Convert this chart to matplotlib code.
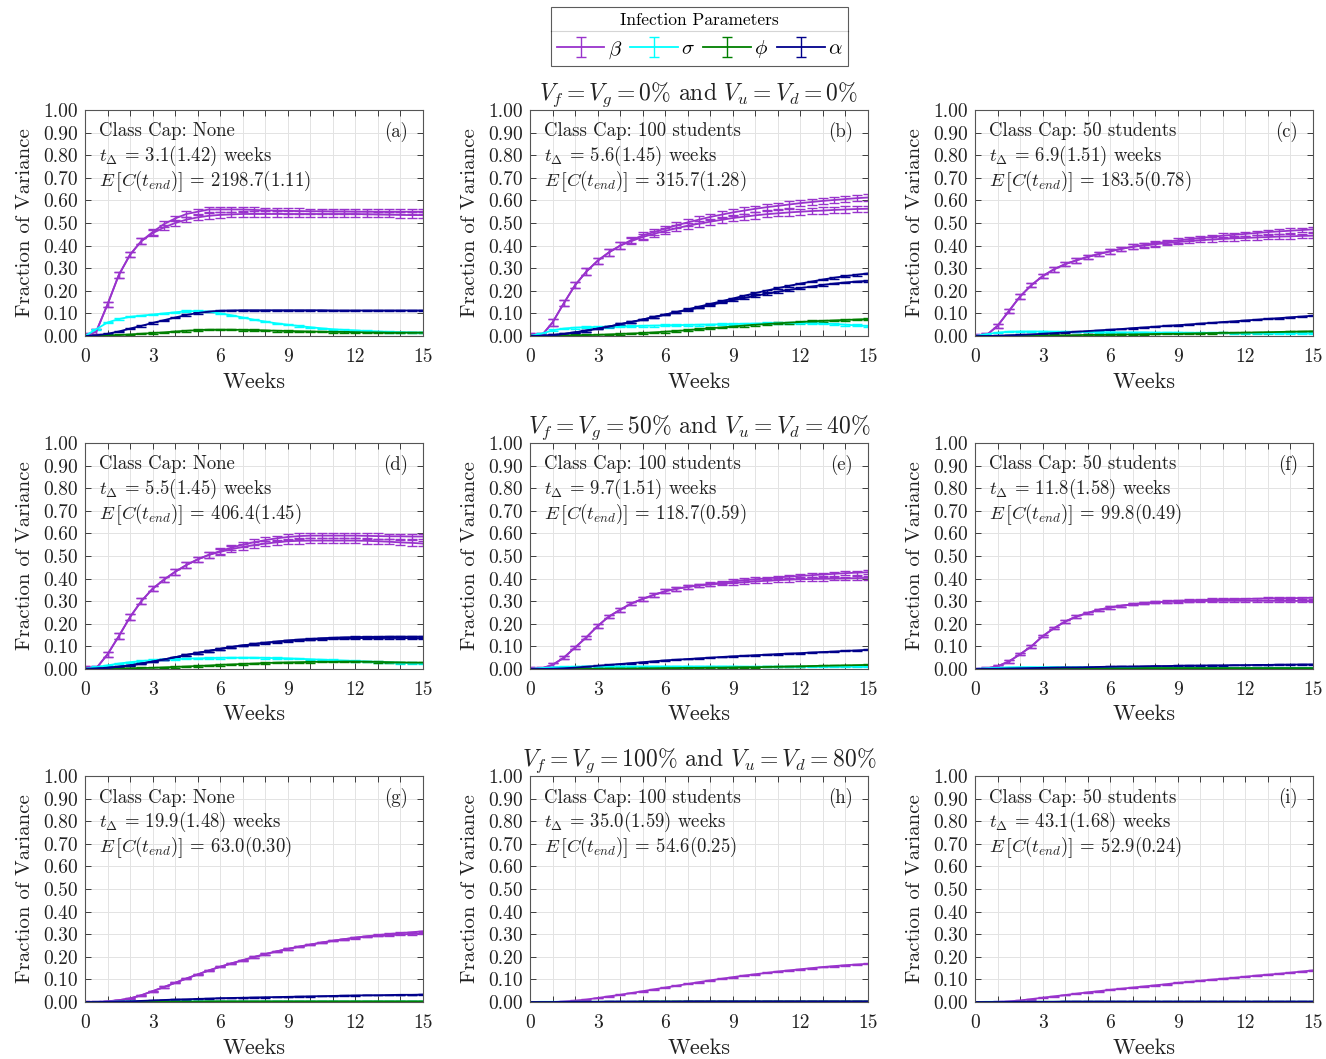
import matplotlib.pyplot as plt
from matplotlib.lines import Line2D
import numpy as np

plt.rcParams['font.family'] = 'serif'
plt.rcParams['font.serif'] = ['cmr10']
plt.rcParams['mathtext.fontset'] = 'cm'
plt.rcParams['axes.formatter.use_mathtext'] = True

weeks = np.arange(0, 15.01, 0.5)

# ---- panel (a)
beta_a_hi = [0, 0.02, 0.14, 0.27, 0.36, 0.42, 0.46, 0.495, 0.52, 0.54, 0.55, 0.56, 0.56, 0.56, 0.56, 0.558,
             0.556, 0.555, 0.554, 0.553, 0.552, 0.552, 0.551, 0.551, 0.55, 0.55, 0.55, 0.55, 0.55, 0.55, 0.55]
beta_a_lo = [0, 0.02, 0.14, 0.27, 0.36, 0.42, 0.455, 0.48, 0.5, 0.515, 0.525, 0.532, 0.536, 0.538, 0.54, 0.54,
             0.54, 0.54, 0.54, 0.54, 0.54, 0.54, 0.54, 0.54, 0.54, 0.539, 0.538, 0.537, 0.536, 0.535, 0.535]
sigma_a = [0, 0.03, 0.06, 0.075, 0.085, 0.09, 0.095, 0.1, 0.105, 0.11, 0.11, 0.108, 0.1, 0.092, 0.082, 0.072,
           0.064, 0.056, 0.05, 0.044, 0.039, 0.034, 0.03, 0.027, 0.025, 0.022, 0.02, 0.018, 0.017, 0.016, 0.015]
phi_a = [0, 0, 0.002, 0.004, 0.007, 0.01, 0.013, 0.016, 0.02, 0.023, 0.026, 0.028, 0.028, 0.028, 0.027, 0.026,
         0.025, 0.023, 0.022, 0.021, 0.02, 0.019, 0.018, 0.018, 0.017, 0.016, 0.016, 0.015, 0.015, 0.015, 0.015]
alpha_a = [0, 0.003, 0.01, 0.02, 0.033, 0.045, 0.058, 0.07, 0.082, 0.093, 0.102, 0.108, 0.112, 0.113, 0.114, 0.114,
           0.114, 0.114, 0.114, 0.114, 0.114, 0.114, 0.113, 0.113, 0.113, 0.113, 0.113, 0.113, 0.113, 0.113, 0.113]

# ---- panel (b)
beta_b_hi = [0, 0.0, 0.06, 0.145, 0.225, 0.285, 0.333, 0.37, 0.4, 0.425, 0.445, 0.46, 0.475, 0.49, 0.503, 0.515,
             0.527, 0.537, 0.547, 0.555, 0.563, 0.57, 0.576, 0.582, 0.588, 0.593, 0.598, 0.602, 0.606, 0.61, 0.613]
beta_b_lo = [0, 0.0, 0.06, 0.145, 0.225, 0.285, 0.333, 0.37, 0.4, 0.42, 0.438, 0.452, 0.465, 0.477, 0.488, 0.497,
             0.506, 0.514, 0.522, 0.528, 0.534, 0.539, 0.543, 0.547, 0.55, 0.553, 0.555, 0.558, 0.56, 0.562, 0.563]
sigma_b = [0, 0.01, 0.025, 0.033, 0.037, 0.039, 0.04, 0.041, 0.042, 0.043, 0.045, 0.046, 0.047, 0.048, 0.049, 0.05,
           0.051, 0.052, 0.053, 0.054, 0.055, 0.056, 0.057, 0.057, 0.057, 0.056, 0.055, 0.053, 0.05, 0.047, 0.044]
phi_b = [0, 0, 0.001, 0.002, 0.003, 0.004, 0.005, 0.007, 0.009, 0.011, 0.013, 0.016, 0.019, 0.022, 0.026, 0.03,
         0.034, 0.038, 0.042, 0.046, 0.05, 0.053, 0.056, 0.059, 0.062, 0.065, 0.067, 0.069, 0.071, 0.073, 0.075]
alpha_b_hi = [0, 0.001, 0.004, 0.009, 0.016, 0.024, 0.033, 0.042, 0.052, 0.062, 0.073, 0.084, 0.095, 0.106, 0.118,
              0.13, 0.142, 0.154, 0.166, 0.178, 0.19, 0.201, 0.212, 0.222, 0.232, 0.241, 0.25, 0.258, 0.265, 0.271, 0.277]
alpha_b_lo = [0, 0.001, 0.004, 0.009, 0.016, 0.024, 0.033, 0.042, 0.052, 0.062, 0.073, 0.084, 0.095, 0.105, 0.115,
              0.126, 0.137, 0.148, 0.158, 0.168, 0.178, 0.187, 0.196, 0.204, 0.212, 0.219, 0.226, 0.232, 0.237, 0.241, 0.244]

# ---- panel (c)
beta_c_hi = [0, 0.003, 0.045, 0.11, 0.175, 0.225, 0.265, 0.295, 0.318, 0.335, 0.35, 0.363, 0.375, 0.386, 0.395, 0.403,
             0.41, 0.417, 0.423, 0.429, 0.434, 0.439, 0.444, 0.448, 0.452, 0.456, 0.46, 0.463, 0.466, 0.469, 0.472]
beta_c_lo = [0, 0.003, 0.045, 0.11, 0.175, 0.225, 0.265, 0.295, 0.318, 0.335, 0.35, 0.363, 0.375, 0.386, 0.395, 0.4,
             0.406, 0.411, 0.416, 0.42, 0.424, 0.427, 0.43, 0.432, 0.434, 0.436, 0.438, 0.44, 0.441, 0.443, 0.444]
sigma_c = [0, 0.008, 0.015, 0.019, 0.02, 0.02, 0.02, 0.019, 0.019, 0.018, 0.018, 0.017, 0.017, 0.016, 0.016, 0.016,
           0.015, 0.015, 0.015, 0.014, 0.014, 0.014, 0.014, 0.013, 0.013, 0.013, 0.013, 0.013, 0.012, 0.012, 0.012]
phi_c = [0, 0, 0, 0.001, 0.001, 0.002, 0.002, 0.003, 0.003, 0.004, 0.005, 0.005, 0.006, 0.007, 0.007, 0.008,
         0.009, 0.01, 0.01, 0.011, 0.012, 0.013, 0.014, 0.014, 0.015, 0.016, 0.017, 0.018, 0.019, 0.02, 0.021]
alpha_c = [0, 0, 0.001, 0.003, 0.005, 0.007, 0.01, 0.013, 0.016, 0.019, 0.022, 0.025, 0.028, 0.031, 0.035, 0.038,
           0.041, 0.045, 0.048, 0.051, 0.055, 0.058, 0.062, 0.065, 0.069, 0.072, 0.076, 0.079, 0.083, 0.086, 0.09]

# ---- panel (d)
beta_d_hi = [0, 0.003, 0.065, 0.145, 0.23, 0.3, 0.355, 0.395, 0.43, 0.46, 0.485, 0.505, 0.522, 0.537, 0.55, 0.561,
             0.57, 0.578, 0.584, 0.588, 0.59, 0.59, 0.59, 0.59, 0.59, 0.589, 0.588, 0.587, 0.587, 0.586, 0.586]
beta_d_lo = [0, 0.003, 0.065, 0.145, 0.23, 0.3, 0.355, 0.395, 0.43, 0.46, 0.485, 0.505, 0.518, 0.53, 0.54, 0.548,
             0.555, 0.56, 0.565, 0.567, 0.568, 0.568, 0.568, 0.568, 0.568, 0.567, 0.565, 0.563, 0.56, 0.558, 0.555]
sigma_d = [0, 0.008, 0.016, 0.024, 0.03, 0.035, 0.039, 0.042, 0.044, 0.046, 0.047, 0.048, 0.049, 0.05, 0.05, 0.05,
           0.049, 0.048, 0.047, 0.045, 0.043, 0.041, 0.039, 0.037, 0.035, 0.033, 0.031, 0.029, 0.027, 0.026, 0.025]
phi_d = [0, 0, 0.001, 0.002, 0.003, 0.004, 0.005, 0.007, 0.009, 0.011, 0.013, 0.015, 0.018, 0.02, 0.022, 0.024,
         0.026, 0.028, 0.029, 0.03, 0.031, 0.032, 0.032, 0.033, 0.033, 0.032, 0.031, 0.03, 0.029, 0.028, 0.028]
alpha_d_hi = [0, 0.002, 0.005, 0.01, 0.016, 0.024, 0.033, 0.042, 0.052, 0.062, 0.071, 0.08, 0.089, 0.097, 0.104,
              0.11, 0.116, 0.121, 0.126, 0.13, 0.133, 0.136, 0.138, 0.14, 0.141, 0.142, 0.142, 0.143, 0.143, 0.143, 0.143]
alpha_d_lo = [0, 0.002, 0.005, 0.01, 0.016, 0.024, 0.033, 0.042, 0.052, 0.062, 0.071, 0.08, 0.089, 0.097, 0.104,
              0.11, 0.115, 0.12, 0.124, 0.127, 0.13, 0.132, 0.134, 0.135, 0.136, 0.137, 0.137, 0.137, 0.137, 0.136, 0.136]

# ---- panel (e)
beta_e_hi = [0, 0.002, 0.018, 0.05, 0.095, 0.14, 0.19, 0.232, 0.262, 0.29, 0.31, 0.328, 0.344, 0.355, 0.363, 0.37,
             0.376, 0.382, 0.388, 0.393, 0.397, 0.401, 0.405, 0.409, 0.412, 0.415, 0.418, 0.421, 0.424, 0.426, 0.428]
beta_e_lo = [0, 0.002, 0.018, 0.05, 0.095, 0.14, 0.19, 0.232, 0.262, 0.29, 0.31, 0.328, 0.344, 0.355, 0.363, 0.37,
             0.374, 0.378, 0.381, 0.384, 0.388, 0.39, 0.393, 0.395, 0.397, 0.398, 0.399, 0.4, 0.401, 0.402, 0.403]
sigma_e = [0, 0.004, 0.007, 0.009, 0.01, 0.011, 0.011, 0.011, 0.011, 0.011, 0.011, 0.011, 0.011, 0.011, 0.011, 0.011,
           0.011, 0.011, 0.011, 0.01, 0.01, 0.01, 0.01, 0.01, 0.01, 0.01, 0.01, 0.01, 0.01, 0.01, 0.009]
phi_e = [0, 0, 0, 0, 0.001, 0.001, 0.001, 0.002, 0.002, 0.002, 0.003, 0.003, 0.004, 0.004, 0.005, 0.005,
         0.006, 0.006, 0.007, 0.008, 0.008, 0.009, 0.01, 0.011, 0.012, 0.013, 0.014, 0.015, 0.016, 0.017, 0.018]
alpha_e = [0, 0, 0.001, 0.003, 0.006, 0.01, 0.014, 0.018, 0.022, 0.026, 0.03, 0.034, 0.038, 0.041, 0.044, 0.047,
           0.05, 0.053, 0.056, 0.058, 0.061, 0.063, 0.066, 0.068, 0.07, 0.073, 0.075, 0.077, 0.08, 0.082, 0.085]

# ---- panel (f)
beta_f_hi = [0, 0.002, 0.012, 0.033, 0.065, 0.1, 0.145, 0.18, 0.21, 0.232, 0.248, 0.262, 0.272, 0.28, 0.286, 0.291,
             0.295, 0.298, 0.301, 0.303, 0.305, 0.307, 0.308, 0.309, 0.31, 0.311, 0.312, 0.313, 0.313, 0.314, 0.315]
beta_f_lo = [0, 0.002, 0.012, 0.033, 0.065, 0.1, 0.145, 0.18, 0.21, 0.232, 0.248, 0.262, 0.272, 0.28, 0.286, 0.291,
             0.295, 0.297, 0.299, 0.3, 0.301, 0.301, 0.302, 0.302, 0.302, 0.302, 0.302, 0.301, 0.301, 0.301, 0.3]
sigma_f = [0, 0.003, 0.005, 0.007, 0.008, 0.008, 0.008, 0.008, 0.007, 0.007, 0.007, 0.006, 0.006, 0.006, 0.006, 0.006,
           0.005, 0.005, 0.005, 0.005, 0.005, 0.005, 0.005, 0.005, 0.005, 0.005, 0.005, 0.005, 0.005, 0.005, 0.005]
phi_f = [0, 0, 0, 0.001, 0.001, 0.001, 0.002, 0.002, 0.002, 0.002, 0.003, 0.003, 0.003, 0.003, 0.003, 0.004,
         0.004, 0.004, 0.004, 0.004, 0.004, 0.004, 0.004, 0.004, 0.004, 0.004, 0.004, 0.004, 0.004, 0.004, 0.004]
alpha_f = [0, 0, 0.001, 0.002, 0.003, 0.004, 0.005, 0.006, 0.007, 0.007, 0.008, 0.009, 0.01, 0.011, 0.011, 0.012,
           0.013, 0.013, 0.014, 0.015, 0.015, 0.016, 0.016, 0.017, 0.017, 0.018, 0.018, 0.019, 0.019, 0.02, 0.02]

# ---- panel (g)
beta_g_hi = [0, 0, 0.003, 0.008, 0.016, 0.03, 0.048, 0.066, 0.085, 0.104, 0.122, 0.14, 0.156, 0.171, 0.185, 0.199,
             0.212, 0.224, 0.235, 0.245, 0.254, 0.263, 0.271, 0.278, 0.285, 0.291, 0.296, 0.301, 0.305, 0.309, 0.313]
beta_g_lo = [0, 0, 0.003, 0.008, 0.016, 0.03, 0.048, 0.066, 0.085, 0.104, 0.122, 0.14, 0.156, 0.171, 0.185, 0.199,
             0.212, 0.224, 0.235, 0.245, 0.254, 0.263, 0.271, 0.278, 0.284, 0.289, 0.293, 0.296, 0.299, 0.301, 0.302]
sigma_g = [0, 0.001, 0.001, 0.002, 0.002, 0.002, 0.002, 0.002, 0.002, 0.002, 0.002, 0.002, 0.002, 0.002, 0.002, 0.002,
           0.002, 0.002, 0.002, 0.002, 0.002, 0.002, 0.002, 0.002, 0.002, 0.002, 0.002, 0.002, 0.002, 0.002, 0.002]
phi_g = [0, 0, 0, 0.001, 0.001, 0.001, 0.002, 0.002, 0.002, 0.002, 0.002, 0.003, 0.003, 0.003, 0.003, 0.003,
         0.003, 0.003, 0.003, 0.003, 0.003, 0.003, 0.003, 0.003, 0.003, 0.003, 0.003, 0.003, 0.003, 0.003, 0.003]
alpha_g = [0, 0, 0.001, 0.002, 0.003, 0.005, 0.007, 0.009, 0.011, 0.012, 0.014, 0.015, 0.017, 0.018, 0.019, 0.02,
           0.021, 0.022, 0.023, 0.024, 0.025, 0.026, 0.027, 0.028, 0.029, 0.03, 0.03, 0.031, 0.032, 0.032, 0.033]

# ---- panel (h)
beta_h = [0, 0, 0, 0.002, 0.006, 0.011, 0.018, 0.025, 0.032, 0.04, 0.048, 0.056, 0.064, 0.072, 0.08, 0.088,
          0.096, 0.103, 0.11, 0.117, 0.123, 0.129, 0.135, 0.14, 0.145, 0.15, 0.155, 0.159, 0.163, 0.166, 0.169]
sigma_h = [0, 0.001, 0.001, 0.001, 0.001, 0.001, 0.001, 0.001, 0.001, 0.001, 0.001, 0.001, 0.001, 0.001, 0.001, 0.001,
           0.001, 0.001, 0.001, 0.001, 0.001, 0.001, 0.001, 0.001, 0.001, 0.001, 0.001, 0.001, 0.001, 0.001, 0.001]
phi_h = [0, 0, 0, 0, 0.001, 0.001, 0.001, 0.001, 0.001, 0.001, 0.002, 0.002, 0.002, 0.002, 0.002, 0.002,
         0.002, 0.002, 0.002, 0.002, 0.002, 0.002, 0.002, 0.002, 0.002, 0.002, 0.002, 0.002, 0.002, 0.002, 0.002]
alpha_h = [0, 0, 0, 0.001, 0.001, 0.001, 0.001, 0.002, 0.002, 0.002, 0.002, 0.002, 0.002, 0.002, 0.003, 0.003,
           0.003, 0.003, 0.003, 0.003, 0.003, 0.003, 0.003, 0.003, 0.003, 0.003, 0.003, 0.003, 0.003, 0.003, 0.003]

# ---- panel (i)
beta_i = [0, 0, 0.001, 0.003, 0.007, 0.013, 0.019, 0.025, 0.031, 0.037, 0.043, 0.048, 0.054, 0.059, 0.064, 0.069,
          0.074, 0.079, 0.085, 0.089, 0.094, 0.099, 0.103, 0.107, 0.112, 0.117, 0.121, 0.125, 0.13, 0.135, 0.14]
sigma_i = [0, 0.001, 0.001, 0.001, 0.001, 0.001, 0.001, 0.001, 0.001, 0.001, 0.001, 0.001, 0.001, 0.001, 0.001, 0.001,
           0.001, 0.001, 0.001, 0.001, 0.001, 0.001, 0.001, 0.001, 0.001, 0.001, 0.001, 0.001, 0.001, 0.001, 0.001]
phi_i = [0, 0, 0, 0, 0.001, 0.001, 0.001, 0.001, 0.001, 0.001, 0.001, 0.001, 0.001, 0.001, 0.001, 0.001,
         0.001, 0.001, 0.001, 0.001, 0.001, 0.001, 0.001, 0.001, 0.001, 0.001, 0.001, 0.001, 0.001, 0.001, 0.001]
alpha_i = [0, 0, 0, 0.001, 0.001, 0.001, 0.001, 0.001, 0.002, 0.002, 0.002, 0.002, 0.002, 0.002, 0.002, 0.002,
           0.002, 0.002, 0.002, 0.002, 0.002, 0.002, 0.002, 0.002, 0.002, 0.002, 0.002, 0.002, 0.002, 0.002, 0.002]

panel_ids = ['a', 'b', 'c', 'd', 'e', 'f', 'g', 'h', 'i']
class_caps = ['None', '100 students', '50 students'] * 3
t_delta = ['3.1(1.42)', '5.6(1.45)', '6.9(1.51)', '5.5(1.45)', '9.7(1.51)', '11.8(1.58)',
           '19.9(1.48)', '35.0(1.59)', '43.1(1.68)']
e_cend = ['2198.7(1.11)', '315.7(1.28)', '183.5(0.78)', '406.4(1.45)', '118.7(0.59)', '99.8(0.49)',
          '63.0(0.30)', '54.6(0.25)', '52.9(0.24)']
row_titles = [r'$V_f = V_g = 0\%$ and $V_u = V_d = 0\%$',
              r'$V_f = V_g = 50\%$ and $V_u = V_d = 40\%$',
              r'$V_f = V_g = 100\%$ and $V_u = V_d = 80\%$']
beta_err = [0.012, 0.014, 0.01, 0.012, 0.008, 0.005, 0.003, 0.002, 0.002]
other_err = [0.003, 0.004, 0.002, 0.003, 0.002, 0.0015, 0.001, 0.001, 0.001]

# (beta curves, sigma, phi, alpha curves) per panel
series = [
    ([beta_a_hi, beta_a_lo], [sigma_a], [phi_a], [alpha_a]),
    ([beta_b_hi, beta_b_lo], [sigma_b], [phi_b], [alpha_b_hi, alpha_b_lo]),
    ([beta_c_hi, beta_c_lo], [sigma_c], [phi_c], [alpha_c]),
    ([beta_d_hi, beta_d_lo], [sigma_d], [phi_d], [alpha_d_hi, alpha_d_lo]),
    ([beta_e_hi, beta_e_lo], [sigma_e], [phi_e], [alpha_e]),
    ([beta_f_hi, beta_f_lo], [sigma_f], [phi_f], [alpha_f]),
    ([beta_g_hi, beta_g_lo], [sigma_g], [phi_g], [alpha_g]),
    ([beta_h], [sigma_h], [phi_h], [alpha_h]),
    ([beta_i], [sigma_i], [phi_i], [alpha_i]),
]

colors = ['#9933cc', '#00ffff', '#007f00', '#00008b']
names = [r'$\beta$', r'$\sigma$', r'$\phi$', r'$\alpha$']

fig = plt.figure(figsize=(13.26, 10.59), dpi=100)

lefts = [0.0641, 0.3997, 0.7353]
bottoms = [0.6827, 0.3683, 0.0538]
w, h = 0.2549, 0.2134
txt = '#222222'

handles = []
for k in range(9):
    r, c = divmod(k, 3)
    ax = fig.add_axes([lefts[c], bottoms[r], w, h])
    for j in range(4):
        err = beta_err[k] if j == 0 else other_err[k]
        for ys in series[k][j]:
            eb = ax.errorbar(weeks, ys, yerr=err, color=colors[j], lw=1.3,
                             elinewidth=1.0, capsize=3.5, capthick=1.0)
        if k == 0:
            handles.append(eb)
    ax.set_xlim(0, 15)
    ax.set_ylim(0, 1)
    ax.set_xticks(range(16))
    ax.set_xticklabels([str(v) if v % 3 == 0 else '' for v in range(16)])
    ax.set_yticks(np.arange(0, 1.01, 0.1))
    ax.set_yticklabels(['%.2f' % v for v in np.arange(0, 1.01, 0.1)])
    ax.tick_params(direction='in', top=True, right=True, length=4, width=0.6,
                   labelsize=14, colors=txt)
    ax.tick_params(axis='x', pad=9)
    ax.tick_params(axis='y', pad=5)
    ax.grid(True, color='#e3e3e3', lw=0.7)
    ax.set_axisbelow(True)
    for sp in ax.spines.values():
        sp.set_color('#555555')
        sp.set_linewidth(0.8)
    ax.set_xlabel('Weeks', fontsize=16, color=txt, labelpad=4)
    ax.set_ylabel('Fraction of Variance', fontsize=15, color=txt, labelpad=7)
    if c == 1:
        ax.set_title(row_titles[r], fontsize=17, color=txt, pad=7)
    ax.text(0.04, 0.905, 'Class Cap: ' + class_caps[k], transform=ax.transAxes,
            fontsize=13.5, color=txt, va='center')
    ax.text(0.04, 0.795, r'$t_\Delta$ = ' + t_delta[k] + ' weeks',
            transform=ax.transAxes, fontsize=13.5, color=txt, va='center')
    ax.text(0.04, 0.685, r'$E\,\left[C(t_{end})\right]$ = ' + e_cend[k],
            transform=ax.transAxes, fontsize=13.5, color=txt, va='center')
    ax.text(0.955, 0.905, '(%s)' % panel_ids[k], transform=ax.transAxes,
            fontsize=13.5, color=txt, va='center', ha='right')

leg = fig.legend(handles, names, loc='upper center', bbox_to_anchor=(0.5275, 0.993),
                 ncol=4, title='Infection Parameters', title_fontsize=12.5,
                 fontsize=15, frameon=True, fancybox=False, edgecolor='#333333',
                 handlelength=2.3, handletextpad=0.15, columnspacing=0.4,
                 borderpad=0.25, borderaxespad=0.0)
leg.get_frame().set_linewidth(0.8)

fig.canvas.draw()
bb = leg.get_window_extent()
tb = leg.get_title().get_window_extent()
inv = fig.transFigure.inverted()
ysep = tb.y0 - 3
(x0, y0), (x1, _) = inv.transform([(bb.x0, ysep), (bb.x1, ysep)])
fig.add_artist(Line2D([x0, x1], [y0, y0], transform=fig.transFigure,
                      color='#333333', lw=0.8))

fig.savefig('out.png', dpi=100)
